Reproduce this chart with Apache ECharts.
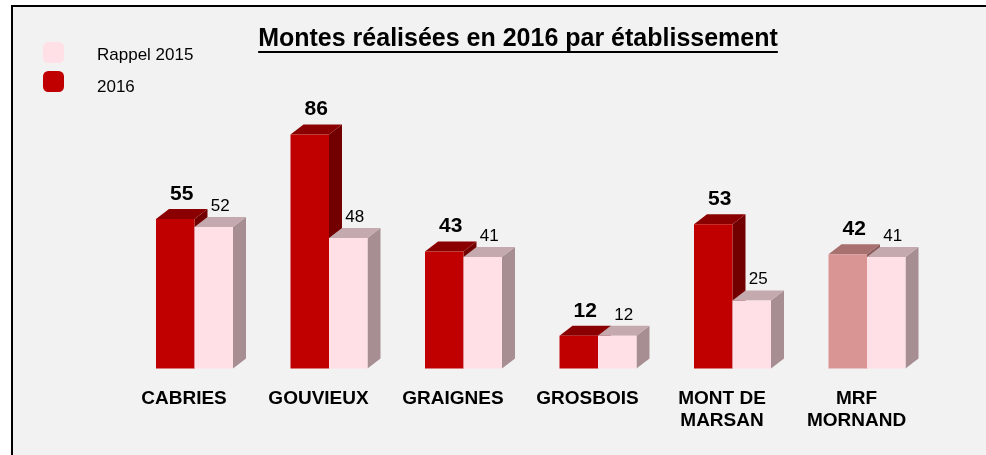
<!DOCTYPE html>
<html>
<head>
<meta charset="utf-8">
<script src="https://cdn.jsdelivr.net/npm/echarts@6/dist/echarts.min.js"></script>
<style>
  html, body { margin: 0; padding: 0; background: #fff; }
  #chart { width: 986px; height: 455px; }
</style>
</head>
<body>
<div id="chart"></div>
<script>
// données
var categories = ['CABRIES', 'GOUVIEUX', 'GRAIGNES', 'GROSBOIS', 'MONT DE\nMARSAN', 'MRF\nMORNAND'];
var values2016 = [55, 86, 43, 12, 53, 42];
var values2015 = [52, 48, 41, 12, 25, 41];
var fadedIndex = 5; // MRF MORNAND en teinte claire

var TITLE = 'Montes réalisées en 2016 par établissement';
var FONT = 'Arial, "Liberation Sans", sans-serif';

var BAR_W = 38.5, DX = 13, DY = 10;

var palettes = {
  dark:  { front: '#c00000', top: '#8a0000', side: '#720000' },
  faded: { front: '#d99594', top: '#a8706f', side: '#8a5a59' },
  light: { front: '#ffe0e6', top: '#c4aaae', side: '#a68e92' }
};

function bar3d(side) {
  return function (params, api) {
    var i = api.value(0), v = api.value(1);
    var topPt = api.coord([i, v]);
    var basePt = api.coord([i, 0]);
    var x0 = side === 'left' ? topPt[0] - BAR_W : topPt[0];
    var x1 = x0 + BAR_W, yt = topPt[1], yb = basePt[1];
    var pal = side === 'right' ? palettes.light : (i === fadedIndex ? palettes.faded : palettes.dark);
    var bold = side === 'left';
    return {
      type: 'group',
      children: [
        { type: 'polygon', shape: { points: [[x1, yt], [x1 + DX, yt - DY], [x1 + DX, yb - DY], [x1, yb]] },
          style: { fill: pal.side } },
        { type: 'polygon', shape: { points: [[x0, yt], [x0 + DX, yt - DY], [x1 + DX, yt - DY], [x1, yt]] },
          style: { fill: pal.top } },
        { type: 'rect', shape: { x: x0, y: yt, width: BAR_W, height: yb - yt },
          style: { fill: pal.front } },
        { type: 'text', x: (x0 + x1) / 2 + DX / 2, y: yt - DY - (bold ? 15 : 11),
          style: { text: String(v), align: 'center', verticalAlign: 'middle',
                   font: (bold ? 'bold 21px ' : '17px ') + FONT, fill: '#000' } }
      ]
    };
  };
}

var ctx = document.createElement('canvas').getContext('2d');
ctx.font = 'bold 25px ' + FONT;
var titleW = ctx.measureText(TITLE).width;
var titleCx = 518;

function legendAt(top, name, shift) {
  return {
    orient: 'vertical', left: 38, top: top,
    itemWidth: 21, itemHeight: 21, icon: 'roundRect',
    data: [name],
    formatter: '{t|{name}}',
    textStyle: {
      padding: [0, 0, 0, 28],
      rich: { t: { fontFamily: FONT, fontSize: 17, color: '#000', padding: [shift * 2, 0, 0, 0] } }
    }
  };
}

var chart = echarts.init(document.getElementById('chart'), null, { renderer: 'canvas' });
chart.setOption({
  animation: false,
  backgroundColor: '#ffffff',
  graphic: [
    { type: 'rect', z: -10, shape: { x: 12, y: 6, width: 1000, height: 500 },
      style: { fill: '#f2f2f2', stroke: '#000', lineWidth: 2 } },
    { type: 'text', x: titleCx, y: 27,
      style: { text: TITLE, align: 'center', verticalAlign: 'top', font: 'bold 25px ' + FONT, fill: '#000' } },
    { type: 'line', shape: { x1: titleCx - titleW / 2, y1: 52, x2: titleCx + titleW / 2, y2: 52 },
      style: { stroke: '#000', lineWidth: 2 } }
  ],
  legend: [legendAt(37, 'Rappel 2015', 3), legendAt(66, '2016', 5.5)],
  grid: { left: 127.25, right: 51.75, top: 96.5, bottom: 86.5 },
  xAxis: {
    type: 'category', data: categories,
    axisLine: { show: false }, axisTick: { show: false }, splitLine: { show: false },
    axisLabel: { margin: 19, interval: 0, fontFamily: FONT, fontSize: 19, fontWeight: 'bold',
                 color: '#000', lineHeight: 22, padding: [0, 21, 0, 0] }
  },
  yAxis: { type: 'value', min: 0, max: 100, show: false, splitLine: { show: false } },
  series: [
    { name: '2016', type: 'custom', itemStyle: { color: '#c00000' },
      renderItem: bar3d('left'),
      data: values2016.map(function (v, i) { return [i, v]; }) },
    { name: 'Rappel 2015', type: 'custom', itemStyle: { color: '#ffe0e6' },
      renderItem: bar3d('right'),
      data: values2015.map(function (v, i) { return [i, v]; }) }
  ]
});
</script>
</body>
</html>
